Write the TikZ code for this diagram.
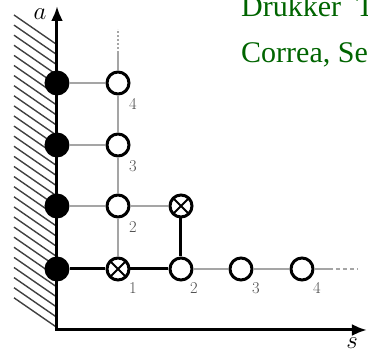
\documentclass[tikz,border=0pt]{standalone}
\usepackage{fontspec}
\newfontfamily\tnr{Liberation Serif}
\usetikzlibrary{arrows.meta}
\definecolor{txtgreen}{RGB}{0,100,0}
\definecolor{gridgray}{RGB}{165,165,165}
\definecolor{labgray}{RGB}{75,75,75}
\begin{document}
\begin{tikzpicture}[x=1pt,y=-1pt,
  opencirc/.style={circle,draw=black,line width=3pt,fill=white,minimum size=22pt,inner sep=0pt},
  fillcirc/.style={circle,fill=black,minimum size=25pt,inner sep=0pt},
  crosscirc/.style={opencirc,path picture={\draw[line width=1.8pt] (path picture bounding box.north west) -- (path picture bounding box.south east) (path picture bounding box.north east) -- (path picture bounding box.south west);}},
  gridline/.style={draw=gridgray,line width=2pt},
  pathline/.style={draw=black,line width=3pt},
  axisline/.style={draw=black,line width=3pt,line join=miter,{Latex[length=15pt,width=12pt]}-{Latex[length=15pt,width=12pt]}},
  hatchline/.style={draw=black!75,line width=1.4pt},
  numlab/.style={text=labgray,font=\fontsize{16.5}{16.5}\selectfont,inner sep=0pt},
  axlab/.style={font=\fontsize{24}{24}\selectfont,inner sep=0pt},
  greentext/.style={text=txtgreen,font=\tnr\fontsize{30}{30}\selectfont,anchor=base west,inner sep=0pt}
]
\path[use as bounding box] (0,0) rectangle (368,358);
\clip (0,0) rectangle (368,358);
% hatching
\foreach \i in {0,...,28}
  \draw[hatchline] (14,{15+10.1*\i}) -- (57,{15+10.1*\i+29.7});
% axes
\coordinate (O) at (57,330);
\coordinate (atip) at (57,6);
\coordinate (stip) at (367,330);
\draw[axisline] (atip) -- (O) -- (stip);
\node[axlab] (alab) at (40,14) {$a$};
\node[axlab] (slab) at (352,343) {$s$};
% wall nodes
\node[fillcirc] (f1) at (57,269) {};
\node[fillcirc] (f2) at (57,206) {};
\node[fillcirc] (f3) at (57,145) {};
\node[fillcirc] (f4) at (57,83) {};
% lattice nodes
\node[crosscirc] (x11) at (118,269) {};
\node[opencirc] (o12) at (118,206) {};
\node[opencirc] (o13) at (118,145) {};
\node[opencirc] (o14) at (118,83) {};
\node[opencirc] (o21) at (181,269) {};
\node[crosscirc] (x22) at (181,206) {};
\node[opencirc] (o31) at (241,269) {};
\node[opencirc] (o41) at (302,269) {};
\coordinate (vtop) at (118,53);
\coordinate (vend) at (118,29);
\coordinate (hright) at (329,269);
\coordinate (hend) at (358,269);
% grid lines
\draw[gridline] (f2) -- (o12);
\draw[gridline] (f3) -- (o13);
\draw[gridline] (f4) -- (o14);
\draw[gridline] (o12) -- (x22);
\draw[gridline] (x11) -- (o12);
\draw[gridline] (o12) -- (o13);
\draw[gridline] (o13) -- (o14);
\draw[gridline] (o14) -- (vtop);
\draw[gridline,dash pattern=on 2pt off 2pt] (vtop) -- (vend);
\draw[gridline] (o21) -- (o31);
\draw[gridline] (o31) -- (o41);
\draw[gridline] (o41) -- (hright);
\draw[gridline,dash pattern=on 4pt off 3pt] (hright) -- (hend);
% thick path
\draw[pathline] (f1) -- (x11);
\draw[pathline] (x11) -- (o21);
\draw[pathline] (o21) -- (x22);
% labels
\node[numlab] (l1) at ([shift={(15,19)}]x11) {1};
\node[numlab] (l2) at ([shift={(15,21)}]o12) {2};
\node[numlab] (l3) at ([shift={(15,21)}]o13) {3};
\node[numlab] (l4) at ([shift={(15,21)}]o14) {4};
\node[numlab] (m2) at ([shift={(13,19)}]o21) {2};
\node[numlab] (m3) at ([shift={(15,19)}]o31) {3};
\node[numlab] (m4) at ([shift={(15,19)}]o41) {4};
% green text
\node[greentext] (t1) at (241,17) {Drukker\hspace{5pt}´T};
\node[greentext] (t2) at (241,63) {Correa, Se};
\end{tikzpicture}
\end{document}
